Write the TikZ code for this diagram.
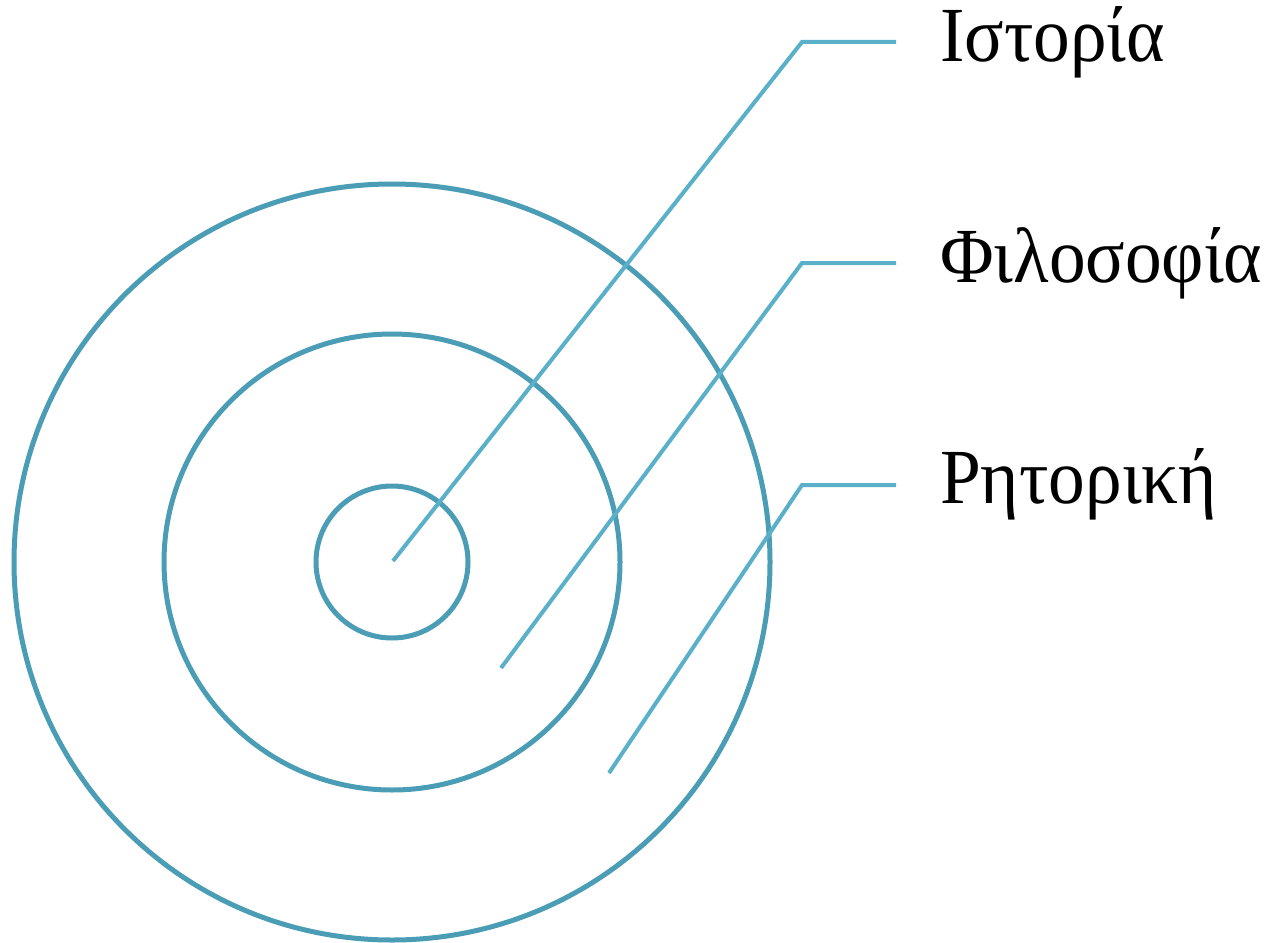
\documentclass[tikz,border=0pt]{standalone}
\usepackage{fontspec}
\setmainfont{Liberation Serif}
\newfontfamily\lblfont[FakeStretch=0.94]{Liberation Serif}
\usepackage{xcolor}
\usetikzlibrary{positioning}
\definecolor{ringcol}{HTML}{4A9DB5}
\definecolor{leadcol}{HTML}{5AB0C8}

\begin{document}
\begin{tikzpicture}[x=1pt, y=-1pt]
		\tikzset{
			ring/.style={draw=ringcol, line width=5pt},
			lead/.style={draw=leadcol, line width=4pt},
			lbl/.style={anchor=base west, inner sep=0pt, font=\lblfont\fontsize{78}{90}\selectfont},
		}
		\useasboundingbox (0,0) rectangle (1273,942);
		\coordinate (O) at (392,562);
		\draw[ring] (O) circle[radius=76];
		\draw[ring] (O) circle[radius=228];
		\draw[ring] (O) circle[radius=378];
		
		\node[lbl] (hist) at (940,62) {Ιστορία};
		\node[lbl] (phil) at (940,282) {Φιλοσοφία};
		\node[lbl] (rhet) at (940,503) {Ρητορική};
		
		\coordinate (h0) at (393,561);
		\coordinate (h1) at (802,42);
		\coordinate (h2) at (896,42);
		\coordinate (p0) at (501,668);
		\coordinate (p1) at (802,263);
		\coordinate (p2) at (896,263);
		\coordinate (r0) at (609,773);
		\coordinate (r1) at (802,485);
		\coordinate (r2) at (896,485);
		
		\draw[lead] (h0) -- (h1) -- (h2);
		\draw[lead] (p0) -- (p1) -- (p2);
		\draw[lead] (r0) -- (r1) -- (r2);
	\end{tikzpicture}
\end{document}
